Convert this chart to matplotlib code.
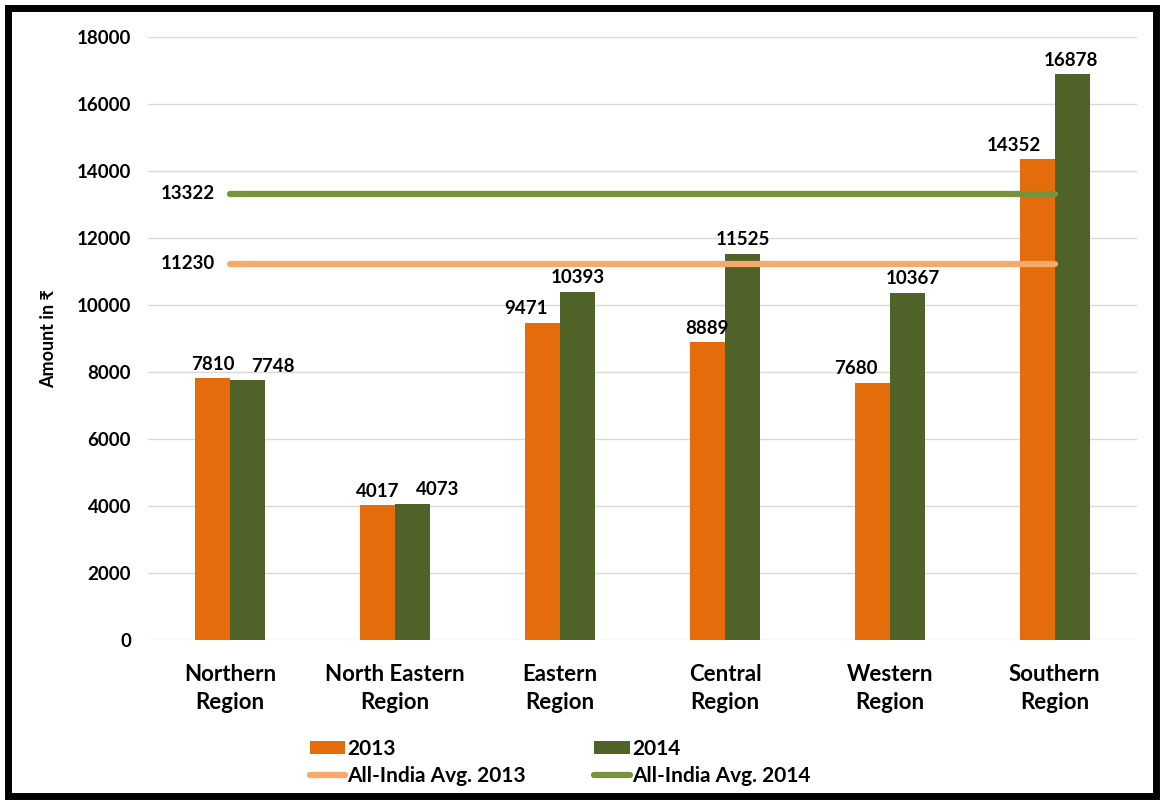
import numpy as np
import matplotlib
matplotlib.use('Agg')
import matplotlib.pyplot as plt
from matplotlib.patches import Rectangle

plt.rcParams['font.family'] = ['Lato', 'DejaVu Sans']
plt.rcParams['font.weight'] = 'bold'

regions = ['Northern\nRegion', 'North Eastern\nRegion', 'Eastern\nRegion',
           'Central\nRegion', 'Western\nRegion', 'Southern\nRegion']
vals_2013 = [7810, 4017, 9471, 8889, 7680, 14352]
vals_2014 = [7748, 4073, 10393, 11525, 10367, 16878]
avg_2013 = 11230
avg_2014 = 13322

c13 = '#E46C0A'
c14 = '#4F6228'
cavg13 = '#F7A86B'
cavg14 = '#77933C'

# label nudges in points (Excel moves labels apart a bit)
dx13 = [0, 0, -12, 0, -12, -17]
dx14 = [18, 18, 0, 0, 4, -1]

fig = plt.figure(figsize=(11.64, 8.02), dpi=100)
ax = fig.add_axes([0.127, 0.202, 0.85, 0.752])

x = np.arange(len(regions))
w = 0.212
b1 = ax.bar(x - w/2, vals_2013, w, color=c13, label='2013', zorder=2)
b2 = ax.bar(x + w/2, vals_2014, w, color=c14, label='2014', zorder=2)

l1, = ax.plot([x[0], x[-1]], [avg_2013, avg_2013], color=cavg13, lw=4.5,
              solid_capstyle='round', label='All-India Avg. 2013', zorder=3)
l2, = ax.plot([x[0], x[-1]], [avg_2014, avg_2014], color=cavg14, lw=4.5,
              solid_capstyle='round', label='All-India Avg. 2014', zorder=3)

fs = 13.5
for i in range(len(x)):
    ax.annotate(str(vals_2013[i]), (x[i] - w/2, vals_2013[i]), xytext=(dx13[i], 4),
                textcoords='offset points', ha='center', va='bottom', fontsize=fs, fontweight='bold')
    ax.annotate(str(vals_2014[i]), (x[i] + w/2, vals_2014[i]), xytext=(dx14[i], 4),
                textcoords='offset points', ha='center', va='bottom', fontsize=fs, fontweight='bold')

for v in [avg_2013, avg_2014]:
    ax.annotate(str(v), (x[0], v), xytext=(-11, 0), textcoords='offset points',
                ha='right', va='center', fontsize=fs, fontweight='bold')

ax.set_xlim(-0.5, 5.5)
ax.set_ylim(0, 18000)
ax.set_yticks(np.arange(0, 18001, 2000))
ax.set_xticks(x)
ax.set_xticklabels(regions, fontsize=16, fontweight='bold', linespacing=1.45)
ax.tick_params(axis='x', length=0, pad=17)
ax.tick_params(axis='y', length=0, pad=12, labelsize=fs)
for t in ax.get_yticklabels():
    t.set_fontweight('bold')
ax.grid(axis='y', color='#D9D9D9', lw=1, zorder=0)
ax.set_axisbelow(True)
for s in ax.spines.values():
    s.set_visible(False)
ax.set_ylabel('Amount in ₹', fontsize=13, fontweight='bold', labelpad=14)

fig.legend([b1, l1, b2, l2], ['2013', 'All-India Avg. 2013', '2014', 'All-India Avg. 2014'],
           loc='upper center', bbox_to_anchor=(0.481, 0.102), ncol=2, frameon=False,
           fontsize=15, columnspacing=3.3, handlelength=1.7, handleheight=0.6,
           handletextpad=0.1, labelspacing=0.35)

fig.patches.append(Rectangle((0.007, 0.008), 0.986, 0.982, transform=fig.transFigure,
                             fill=False, edgecolor='black', lw=5))

fig.savefig('out.png', dpi=100)
